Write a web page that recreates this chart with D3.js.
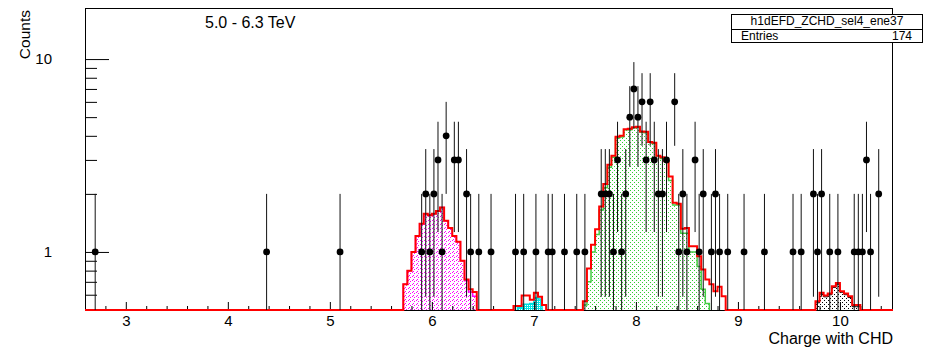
<!DOCTYPE html>
<html><head><meta charset="utf-8">
<script src="https://cdn.jsdelivr.net/npm/d3@7"></script>
<style>
body{margin:0;background:#fff}
svg{display:block}
text{font-family:"Liberation Sans",Arial,Helvetica,sans-serif;fill:#000}
</style>
</head><body>
<svg id="c" width="933" height="349"></svg>
<script>
// ---------------- data ----------------
const binWidth = 0.04;
const xDomain = [2.6, 10.52];
const yDomain = [0.5, 18.4];
const xMajorTicks = [3, 4, 5, 6, 7, 8, 9, 10];
const yMajorTicks = [1, 10];
const yMinorTicks = [0.6, 0.7, 0.8, 0.9, 2, 3, 4, 5, 6, 7, 8, 9];

// data points (bin centre, counts)
const pointX = [2.70, 4.38, 5.10,
  5.90, 5.94, 5.98, 6.02, 6.06, 6.10, 6.14, 6.22, 6.26, 6.34, 6.38, 6.46, 6.58,
  6.82, 6.90, 7.02, 7.14, 7.18, 7.30, 7.42, 7.50,
  7.66, 7.70, 7.74, 7.78, 7.82, 7.86, 7.90, 7.94, 7.98, 8.02, 8.06, 8.10, 8.14, 8.18,
  8.22, 8.26, 8.30, 8.38, 8.42, 8.46, 8.50, 8.58, 8.62, 8.66, 8.74, 8.78, 8.82, 8.90,
  9.06, 9.26,
  9.54, 9.62, 9.74, 9.78, 9.82, 9.90, 9.98, 10.14, 10.18, 10.22, 10.26, 10.30, 10.38];
const pointY = [1, 1, 1,
  1, 2, 1, 2, 3, 1, 4, 3, 3, 2, 1, 1, 1,
  1, 1, 1, 1, 1, 1, 1, 1,
  2, 2, 2, 1, 3, 1, 2, 5, 7, 5, 6, 3, 6, 3,
  2, 2, 3, 6, 1, 2, 1, 3, 1, 2, 1, 2, 1, 1,
  1, 1,
  1, 1, 2, 1, 2, 1, 1, 1, 1, 1, 3, 1, 2];

// total (red) template, in four segments
const red6Start = 5.72;
const red6 = [0.68, 0.80, 1.00, 1.21, 1.40, 1.58, 1.55, 1.58, 1.63, 1.70, 1.45, 1.33, 1.21, 1.13, 0.90, 0.72, 0.64, 0.62];
const red7Start = 6.80;
const red7 = [0.525, 0.525, 0.595, 0.595, 0.565, 0.615, 0.585, 0.53];
const red8Start = 7.48;
const red8 = [0.555, 0.82, 1.09, 1.31, 1.72, 2.25, 2.83, 3.15, 3.96, 4.0, 4.33, 4.35, 4.43, 4.46, 4.21, 4.2,
  3.72, 3.68, 3.15, 3.1, 2.95, 2.46, 1.8, 1.78, 1.32, 1.33, 1.07, 1.07, 0.95, 0.81, 0.72, 0.68, 0.625, 0.66, 0.59];
const red10Start = 9.76;
const red10 = [0.555, 0.614, 0.594, 0.608, 0.664, 0.69, 0.626, 0.608, 0.59, 0.53, 0.53];

// components
const magentaStart = 5.72;
const magenta = [0.68, 0.80, 1.00, 1.21, 1.40, 1.58, 1.55, 1.58, 1.63, 1.70, 1.45, 1.33, 1.21, 1.13, 0.90, 0.71, 0.62, 0.59];
const cyanStart = 6.84;
const cyan = [0.515, 0.535, 0.535, 0.54, 0.58, 0.57];
const greenStart = 7.48;
const green = [0.53, 0.70, 1.0, 1.23, 1.65, 2.15, 2.75, 3.1, 3.9, 3.95, 4.3, 4.3, 4.4, 4.43, 4.18, 4.15,
  3.7, 3.65, 3.15, 3.05, 2.95, 2.35, 1.75, 1.75, 1.25, 1.25, 1.0, 1.0, 0.84, 0.64, 0.54];
const blackStart = 9.76;
const black = [0.545, 0.605, 0.585, 0.6, 0.655, 0.68, 0.618, 0.6, 0.58, 0.52, 0.52];

// ---------------- drawing ----------------
const L = 85, R = 893, T = 8, B = 310;
const svg = d3.select("#c");
const x = d3.scaleLinear().domain(xDomain).range([L, R]);
const y = d3.scaleLog().domain(yDomain).range([B, T]);
const yc = v => y(Math.max(v, yDomain[0]));

const defs = svg.append("defs");
function dotPattern(id, color, w, h, pts) {
  const p = defs.append("pattern").attr("id", id).attr("patternUnits", "userSpaceOnUse")
    .attr("width", w).attr("height", h);
  pts.forEach(([a, b]) => p.append("rect").attr("x", a).attr("y", b).attr("width", 1).attr("height", 1).attr("fill", color));
}
dotPattern("pm", "#ff00ff", 4, 4, [[0, 0], [2, 1], [1, 3]]);
dotPattern("pg", "#33cc33", 4, 4, [[0, 0], [2, 2]]);
dotPattern("pk", "#000000", 4, 4, [[0, 0], [2, 2]]);
dotPattern("pc", "#00e8e8", 2, 2, [[0, 0], [1, 0], [0, 1]]);

defs.append("clipPath").attr("id", "plot").append("rect")
  .attr("x", L).attr("y", T).attr("width", R - L).attr("height", B - T + 2);

function stepPoints(start, vals) {
  const pts = [[x(start), B]];
  vals.forEach((v, i) => {
    pts.push([x(start + i * binWidth), yc(v)]);
    pts.push([x(start + (i + 1) * binWidth), yc(v)]);
  });
  pts.push([x(start + vals.length * binWidth), B]);
  return pts;
}
const line = d3.line();
const g = svg.append("g").attr("clip-path", "url(#plot)");

function comp(start, vals, fill, stroke, sw) {
  const pts = stepPoints(start, vals);
  g.append("path").attr("d", line(pts) + "Z").attr("fill", fill).attr("stroke", "none");
  g.append("path").attr("d", line(pts)).attr("fill", "none").attr("stroke", stroke)
    .attr("stroke-width", sw);
}
comp(magentaStart, magenta, "url(#pm)", "#ff00ff", 1.5);
comp(cyanStart, cyan, "url(#pc)", "#00e0e0", 1.5);
comp(greenStart, green, "url(#pg)", "#44cc44", 1.5);
comp(blackStart, black, "url(#pk)", "#000", 1);

// frame
svg.append("rect").attr("x", L + 0.5).attr("y", T + 0.5).attr("width", R - L - 1).attr("height", B - T)
  .attr("fill", "none").attr("stroke", "#000").attr("stroke-width", 1);

// axes ticks
const xAxis = d3.axisBottom(x).tickValues(xMajorTicks).tickSize(-8).tickPadding(14).tickFormat(d3.format("d"));
const xMinor = d3.range(2.6, 10.53, 0.2).map(v => +v.toFixed(2)).filter(v => !xMajorTicks.includes(Math.round(v * 100) / 100));
const gx = svg.append("g").attr("transform", `translate(0,${B})`).call(xAxis);
gx.select(".domain").remove();
gx.selectAll("text").attr("font-size", 15).attr("dy", 0).attr("y", 16);
svg.append("g").attr("transform", `translate(0,${B})`)
  .call(d3.axisBottom(x).tickValues(xMinor).tickSize(-4).tickFormat(""))
  .select(".domain").remove();

const gy = svg.append("g").attr("transform", `translate(${L},0)`)
  .call(d3.axisLeft(y).tickValues(yMajorTicks).tickSize(-24).tickPadding(33).tickFormat(d3.format("d")));
gy.select(".domain").remove();
gy.selectAll("text").attr("font-size", 15);
svg.append("g").attr("transform", `translate(${L},0)`)
  .call(d3.axisLeft(y).tickValues(yMinorTicks).tickSize(-12).tickFormat(""))
  .select(".domain").remove();
svg.selectAll(".tick line").attr("stroke", "#000");

// total red template
(function () {
  const segs = [[red6Start, red6], [red7Start, red7], [red8Start, red8], [red10Start, red10]];
  let pts = [[x(xDomain[0]), B]];
  segs.forEach(([s, v]) => { pts = pts.concat(stepPoints(s, v)); });
  pts.push([x(xDomain[1]), B]);
  svg.append("g").attr("clip-path", "url(#plot)").append("path")
    .attr("d", line(pts)).attr("fill", "none").attr("stroke", "#ff0000").attr("stroke-width", 2);
})();

// data points with error bars
const pg = svg.append("g").attr("clip-path", "url(#plot)");
pointX.forEach((px, i) => {
  const v = pointY[i], e = Math.sqrt(v);
  const lo = v - e > yDomain[0] ? y(v - e) : B;
  const hi = y(Math.min(v + e, yDomain[1]));
  pg.append("line").attr("x1", x(px)).attr("x2", x(px)).attr("y1", lo).attr("y2", hi)
    .attr("stroke", "#111").attr("stroke-width", 1);
  pg.append("circle").attr("cx", x(px)).attr("cy", y(v)).attr("r", 3.4).attr("fill", "#000");
});

// texts
svg.append("text").attr("x", 205).attr("y", 28).attr("font-size", 16).text("5.0 - 6.3 TeV");
svg.append("text").attr("x", R).attr("y", 344).attr("text-anchor", "end").attr("font-size", 16).text("Charge with CHD");
svg.append("text").attr("transform", "translate(30,10) rotate(-90)").attr("text-anchor", "end")
  .attr("font-size", 15.5).text("Counts");

// stats box
const sb = svg.append("g");
sb.append("rect").attr("x", 731.5).attr("y", 14.5).attr("width", 191).attr("height", 28)
  .attr("fill", "#fff").attr("stroke", "#000");
sb.append("line").attr("x1", 731.5).attr("x2", 922.5).attr("y1", 29.5).attr("y2", 29.5).attr("stroke", "#000");
sb.append("text").attr("x", 827).attr("y", 25).attr("text-anchor", "middle").attr("font-size", 12).text("h1dEFD_ZCHD_sel4_ene37");
sb.append("text").attr("x", 741).attr("y", 39.5).attr("font-size", 12).text("Entries");
sb.append("text").attr("x", 912).attr("y", 40).attr("text-anchor", "end").attr("font-size", 12).text("174");
</script>
</body></html>
